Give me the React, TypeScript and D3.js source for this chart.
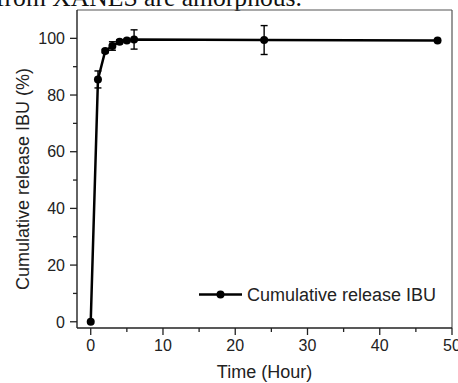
import React from "react";
import * as d3 from "d3";

const times = [0, 1, 2, 3, 4, 5, 6, 24, 48];
const release = [0, 85.5, 95.5, 97.3, 98.8, 99.2, 99.6, 99.4, 99.2];
const errors = [0, 3, 0.6, 1.5, 0.7, 0.5, 3.4, 5.1, 0];
const xTicks = [0, 10, 20, 30, 40, 50];
const xMinor = [5, 15, 25, 35, 45];
const yTicks = [0, 20, 40, 60, 80, 100];
const yMinor = [10, 30, 50, 70, 90];
const seriesName = "Cumulative release IBU";
const xTitle = "Time (Hour)";
const yTitle = "Cumulative release IBU (%)";
const headerText = "from XANES are amorphous.";

const W = 458;
const H = 383;
const L = 77, R = 452, T = 10, B = 328;

export default function App() {
  const x = d3.scaleLinear().domain([-1.9, 50]).range([L, R]);
  const y = d3.scaleLinear().domain([-2.2, 110]).range([B, T]);
  const data = times.map((t, i) => ({ t, v: release[i], e: errors[i] }));
  const line = d3
    .line<{ t: number; v: number }>()
    .x((d) => x(d.t))
    .y((d) => y(d.v));
  const sans = "'Liberation Sans', Arial, Helvetica, sans-serif";
  return (
    <svg
      width={W}
      height={H}
      viewBox={`0 0 ${W} ${H}`}
      style={{ position: "absolute", left: 0, top: 0, background: "#fff" }}
    >
      <rect x={0} y={0} width={W} height={H} fill="#fff" />
      <text
        x={-4}
        y={6}
        fontFamily="'Liberation Serif', 'Times New Roman', serif"
        fontSize={25}
        textLength={306}
        lengthAdjust="spacingAndGlyphs"
        fill="#111"
      >
        {headerText}
      </text>
      {/* frame */}
      <line x1={L} y1={T} x2={R} y2={T} stroke="#555" strokeWidth={1.2} />
      <line x1={R} y1={T} x2={R} y2={B} stroke="#555" strokeWidth={1.2} />
      <line x1={L} y1={T} x2={L} y2={B} stroke="#222" strokeWidth={1.4} />
      <line x1={L} y1={B} x2={R} y2={B} stroke="#222" strokeWidth={1.4} />
      {/* x ticks */}
      {xTicks.map((t) => (
        <g key={"xt" + t}>
          <line x1={x(t)} x2={x(t)} y1={B} y2={B + 7} stroke="#222" strokeWidth={1.3} />
          <text
            x={x(t)}
            y={351}
            textAnchor="middle"
            fontFamily={sans}
            fontSize={16}
            fill="#222"
          >
            {t}
          </text>
        </g>
      ))}
      {xMinor.map((t) => (
        <line key={"xm" + t} x1={x(t)} x2={x(t)} y1={B} y2={B + 4} stroke="#222" strokeWidth={1.3} />
      ))}
      {/* y ticks */}
      {yTicks.map((t) => (
        <g key={"yt" + t}>
          <line x1={L - 7} x2={L} y1={y(t)} y2={y(t)} stroke="#222" strokeWidth={1.3} />
          <text
            x={65}
            y={y(t)}
            dy="0.36em"
            textAnchor="end"
            fontFamily={sans}
            fontSize={16}
            fill="#222"
          >
            {t}
          </text>
        </g>
      ))}
      {yMinor.map((t) => (
        <line key={"ym" + t} x1={L - 4} x2={L} y1={y(t)} y2={y(t)} stroke="#222" strokeWidth={1.3} />
      ))}
      {/* axis titles */}
      <text
        x={(L + R) / 2 + 0}
        y={378}
        textAnchor="middle"
        fontFamily={sans}
        fontSize={18}
        fill="#222"
        transform="translate(0,0)"
      >
        {xTitle}
      </text>
      <text
        transform={`translate(29,179) rotate(-90)`}
        textAnchor="middle"
        fontFamily={sans}
        fontSize={18}
        fill="#222"
      >
        {yTitle}
      </text>
      {/* data line */}
      <path d={line(data) || ""} fill="none" stroke="#000" strokeWidth={2.5} strokeLinejoin="round" />
      {/* error bars */}
      {data
        .filter((d) => d.e > 0)
        .map((d, i) => (
          <g key={"eb" + i} stroke="#000" strokeWidth={1.4}>
            <line x1={x(d.t)} x2={x(d.t)} y1={y(d.v - d.e)} y2={y(d.v + d.e)} />
            <line x1={x(d.t) - 3.5} x2={x(d.t) + 3.5} y1={y(d.v - d.e)} y2={y(d.v - d.e)} />
            <line x1={x(d.t) - 3.5} x2={x(d.t) + 3.5} y1={y(d.v + d.e)} y2={y(d.v + d.e)} />
          </g>
        ))}
      {/* markers */}
      {data.map((d, i) => (
        <circle key={"pt" + i} cx={x(d.t)} cy={y(d.v)} r={4} fill="#000" />
      ))}
      {/* legend */}
      <line x1={199} x2={242} y1={294.5} y2={294.5} stroke="#000" strokeWidth={2.5} />
      <circle cx={220.5} cy={294.5} r={4} fill="#000" />
      <text x={247} y={301} fontFamily={sans} fontSize={18} fill="#222">
        {seriesName}
      </text>
    </svg>
  );
}
